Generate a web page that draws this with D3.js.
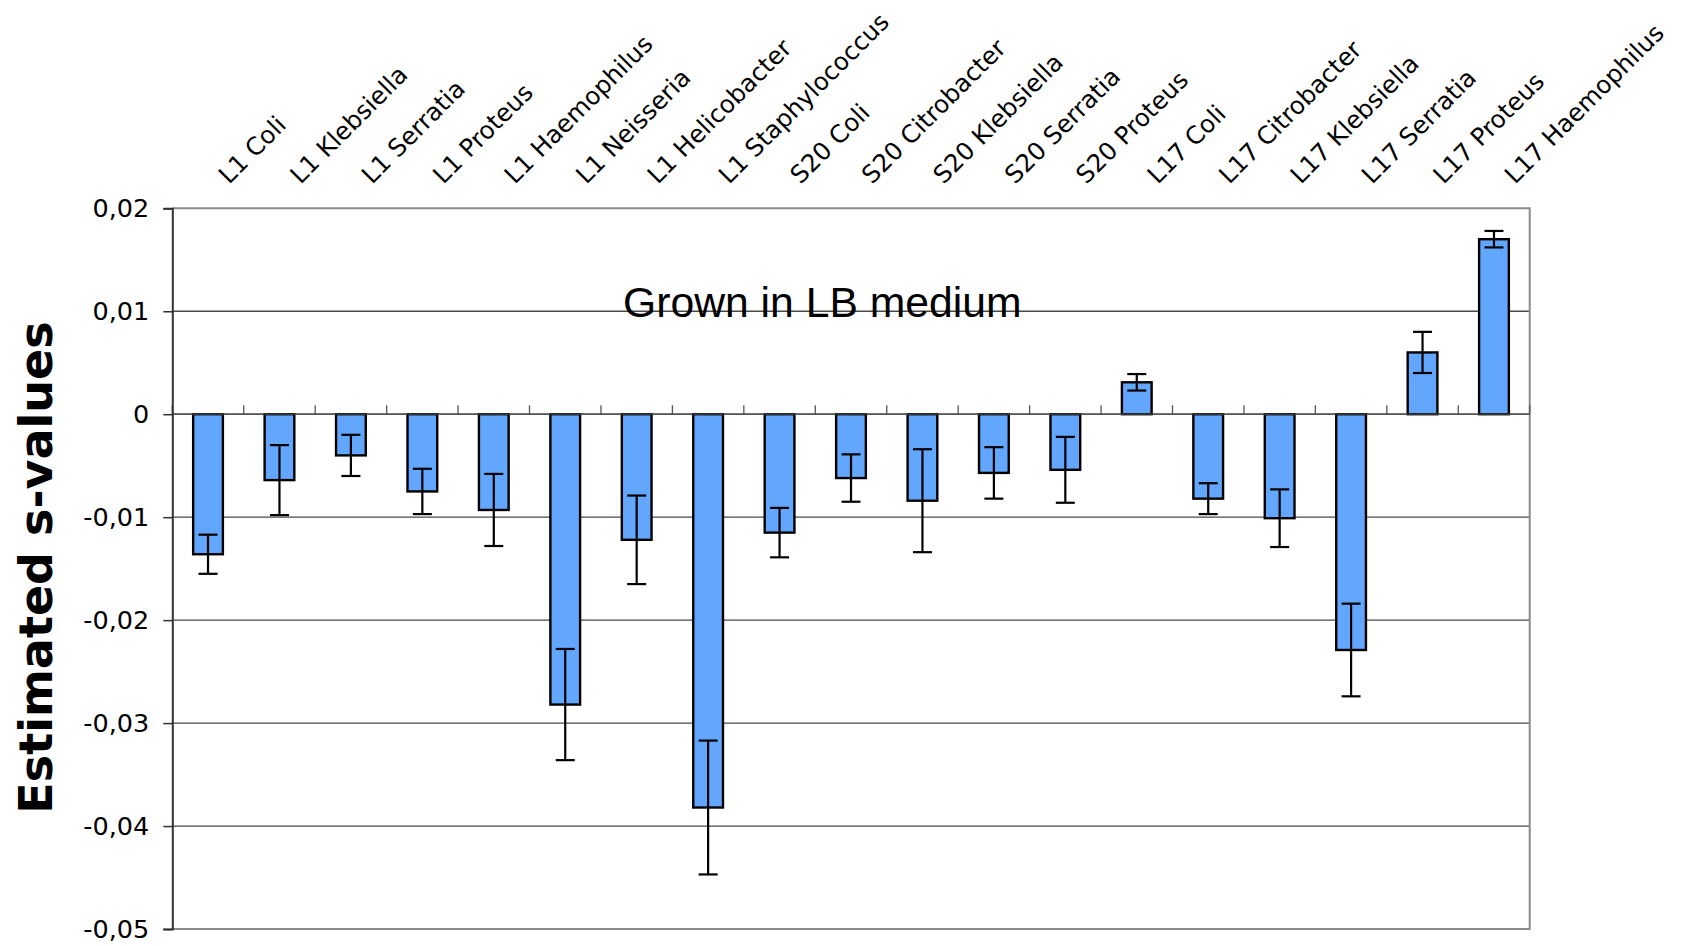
<!DOCTYPE html>
<html>
<head>
<meta charset="utf-8">
<script src="https://cdn.jsdelivr.net/npm/d3@7"></script>
<style>
  html, body { margin: 0; padding: 0; background: #ffffff; }
  svg { display: block; }
</style>
</head>
<body>
<svg id="chart" width="1686" height="946"></svg>
<script>
// Strains, in plotting order
const categories = [
  "L1 Coli", "L1 Klebsiella", "L1 Serratia", "L1 Proteus", "L1 Haemophilus",
  "L1 Neisseria", "L1 Helicobacter", "L1 Staphylococcus",
  "S20 Coli", "S20 Citrobacter", "S20 Klebsiella", "S20 Serratia", "S20 Proteus",
  "L17 Coli", "L17 Citrobacter", "L17 Klebsiella", "L17 Serratia", "L17 Proteus", "L17 Haemophilus"
];

// Estimated selection coefficients
const sValues = [
  -0.0136, -0.0064, -0.0040, -0.0075, -0.0093,
  -0.0282, -0.0122, -0.0382,
  -0.0115, -0.0062, -0.0084, -0.0057, -0.0054,
  0.0031, -0.0082, -0.0101, -0.0229, 0.0060, 0.0170
];

// Half-width of each error bar
const sErrors = [
  0.0019, 0.0034, 0.0020, 0.0022, 0.0035,
  0.0054, 0.0043, 0.0065,
  0.0024, 0.0023, 0.0050, 0.0025, 0.0032,
  0.0008, 0.0015, 0.0028, 0.0045, 0.0020, 0.0008
];

const yTicks = [0.02, 0.01, 0, -0.01, -0.02, -0.03, -0.04, -0.05];
const yDomain = [-0.05, 0.02];

const chartTitle = "Grown in LB medium";
const yTitle = "Estimated s-values";

const plot = { left: 172.3, right: 1529.7, top: 208.3, bottom: 929 };

const svg = d3.select("#chart");

const x = d3.scaleBand()
  .domain(categories)
  .range([plot.left, plot.right])
  .paddingInner(0.584)
  .paddingOuter(0.292);

const y = d3.scaleLinear()
  .domain(yDomain)
  .range([plot.bottom, plot.top]);

const locale = d3.formatLocale({ decimal: ",", thousands: ".", grouping: [3], currency: ["", ""], minus: "-" });
const fmt = v => (v === 0 ? "0" : locale.format(".2f")(v));

// Horizontal gridlines
svg.append("g")
  .selectAll("line")
  .data(yTicks.filter(v => v !== yDomain[0] && v !== yDomain[1]))
  .join("line")
  .attr("x1", plot.left).attr("x2", plot.right)
  .attr("y1", d => y(d)).attr("y2", d => y(d))
  .attr("stroke", "#4a4a4a")
  .attr("stroke-width", 1.3);

// Plot frame (top, right, bottom)
svg.append("path")
  .attr("d", `M${plot.left},${y(yDomain[1])}H${plot.right}V${y(yDomain[0])}H${plot.left}`)
  .attr("fill", "none")
  .attr("stroke", "#8a8a8a")
  .attr("stroke-width", 2);

// Category boundary ticks on the zero line
const step = x.step();
const boundaries = d3.range(0, categories.length + 1).map(i => plot.left + i * step);
svg.append("g")
  .selectAll("line")
  .data(boundaries)
  .join("line")
  .attr("x1", d => d).attr("x2", d => d)
  .attr("y1", y(0) - 9).attr("y2", y(0))
  .attr("stroke", "#555")
  .attr("stroke-width", 1.3);

// Bars
svg.append("g")
  .selectAll("rect")
  .data(categories)
  .join("rect")
  .attr("x", d => x(d))
  .attr("width", x.bandwidth())
  .attr("y", (d, i) => Math.min(y(sValues[i]), y(0)))
  .attr("height", (d, i) => Math.abs(y(sValues[i]) - y(0)))
  .attr("fill", "#62a7fd")
  .attr("stroke", "#000")
  .attr("stroke-width", 2.4);

// Zero line
svg.append("line")
  .attr("x1", plot.left).attr("x2", plot.right)
  .attr("y1", y(0)).attr("y2", y(0))
  .attr("stroke", "#4a4a4a")
  .attr("stroke-width", 1.3);

// Error bars
const capW = 19;
const eb = svg.append("g")
  .selectAll("g")
  .data(categories)
  .join("g")
  .attr("stroke", "#000")
  .attr("stroke-width", 2.2);
eb.append("line")
  .attr("x1", d => x(d) + x.bandwidth() / 2)
  .attr("x2", d => x(d) + x.bandwidth() / 2)
  .attr("y1", (d, i) => y(sValues[i] + sErrors[i]))
  .attr("y2", (d, i) => y(sValues[i] - sErrors[i]));
eb.append("line")
  .attr("x1", d => x(d) + x.bandwidth() / 2 - capW / 2)
  .attr("x2", d => x(d) + x.bandwidth() / 2 + capW / 2)
  .attr("y1", (d, i) => y(sValues[i] + sErrors[i]))
  .attr("y2", (d, i) => y(sValues[i] + sErrors[i]));
eb.append("line")
  .attr("x1", d => x(d) + x.bandwidth() / 2 - capW / 2)
  .attr("x2", d => x(d) + x.bandwidth() / 2 + capW / 2)
  .attr("y1", (d, i) => y(sValues[i] - sErrors[i]))
  .attr("y2", (d, i) => y(sValues[i] - sErrors[i]));

// Y axis
const yAxis = svg.append("g")
  .attr("transform", `translate(${plot.left},0)`)
  .call(d3.axisLeft(y).tickValues(yTicks).tickFormat(fmt).tickSize(9).tickPadding(14));
yAxis.select(".domain").attr("stroke", "#333").attr("stroke-width", 2);
yAxis.selectAll(".tick line").attr("stroke", "#333").attr("stroke-width", 1.5);
yAxis.selectAll(".tick text")
  .attr("font-family", "'DejaVu Sans', Verdana, sans-serif")
  .attr("font-size", 25.5)
  .attr("fill", "#000");

// Category labels, slanted above the plot
svg.append("g")
  .selectAll("text")
  .data(categories)
  .join("text")
  .attr("transform", d => `translate(${x(d) + x.bandwidth() / 2 + 21},${185}) rotate(-45)`)
  .attr("text-anchor", "start")
  .attr("font-family", "'DejaVu Sans', Verdana, sans-serif")
  .attr("font-size", 24.5)
  .attr("fill", "#000")
  .text(d => d);

// Chart title inside the plot
svg.append("text")
  .attr("x", 623)
  .attr("y", 317)
  .attr("font-family", "'Liberation Sans', Arial, sans-serif")
  .attr("font-size", 42.7)
  .attr("fill", "#000")
  .text(chartTitle);

// Y axis title
svg.append("text")
  .attr("transform", `translate(52,567.5) rotate(-90)`)
  .attr("text-anchor", "middle")
  .attr("font-family", "'DejaVu Sans', Verdana, sans-serif")
  .attr("font-weight", "bold")
  .attr("font-size", 46)
  .attr("fill", "#000")
  .text(yTitle);
</script>
</body>
</html>
